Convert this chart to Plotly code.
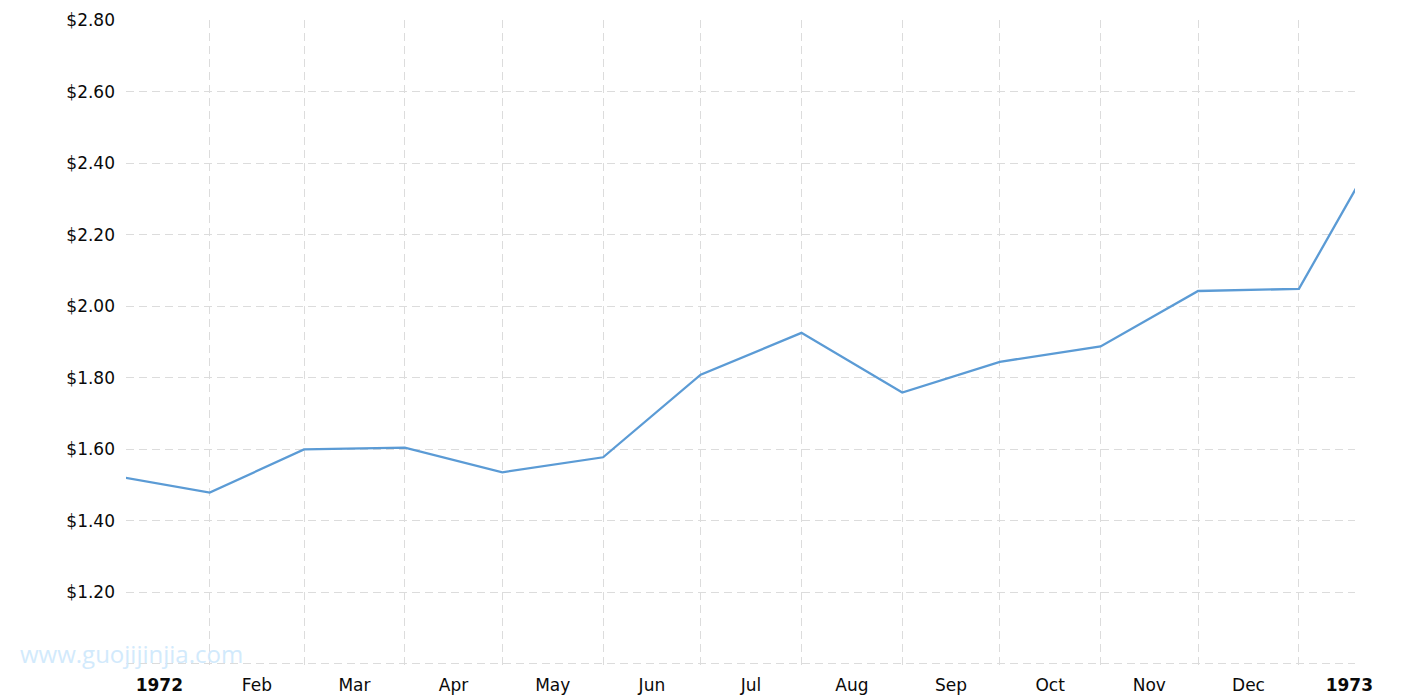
import pandas as pd
import plotly.graph_objects as go

# Monthly prices (first of month)
dates = ["1972-01-01", "1972-02-01", "1972-03-01", "1972-04-01", "1972-05-01",
         "1972-06-01", "1972-07-01", "1972-08-01", "1972-09-01", "1972-10-01",
         "1972-11-01", "1972-12-01", "1973-01-01", "1973-02-01"]
prices = [1.529, 1.479, 1.600, 1.605, 1.536, 1.578, 1.809, 1.926, 1.759,
          1.845, 1.888, 2.043, 2.049, 2.545]

# X tick labels (one per month, centred in the month)
month_starts = ["1972-01-01", "1972-02-01", "1972-03-01", "1972-04-01", "1972-05-01",
                "1972-06-01", "1972-07-01", "1972-08-01", "1972-09-01", "1972-10-01",
                "1972-11-01", "1972-12-01", "1973-01-01"]
month_labels = ["<b>1972</b>", "Feb", "Mar", "Apr", "May", "Jun", "Jul", "Aug",
                "Sep", "Oct", "Nov", "Dec", "<b>1973</b>"]

# Y ticks
y_ticks = [1.0, 1.2, 1.4, 1.6, 1.8, 2.0, 2.2, 2.4, 2.6, 2.8]
y_labels = ["", "$1.20", "$1.40", "$1.60", "$1.80", "$2.00", "$2.20", "$2.40", "$2.60", "$2.80"]

x_range = ["1972-01-06 06:00", "1973-01-18 06:00"]

starts = pd.to_datetime(month_starts)
mids = [s + (s + pd.offsets.MonthBegin(1) - s) / 2 for s in starts]

GRID = "#dcdcdc"
DASH = "8px,5px"

fig = go.Figure()
fig.add_trace(go.Scatter(
    x=pd.to_datetime(dates), y=prices, mode="lines",
    line=dict(color="#5b9bd5", width=2.3),
    hoverinfo="x+y", showlegend=False, cliponaxis=True,
))

fig.update_layout(
    width=1415, height=700,
    margin=dict(l=118, r=68, t=12, b=43),
    paper_bgcolor="white", plot_bgcolor="white",
    font=dict(family="DejaVu Sans, Verdana, sans-serif", size=17, color="#0a0a0a"),
    xaxis=dict(
        type="date", range=x_range, automargin=False,
        tickmode="array", tickvals=mids, ticktext=month_labels,
        showgrid=False, zeroline=False, showline=False, ticks="",
        ticklabelstandoff=8,
        minor=dict(showgrid=True, griddash=DASH, gridcolor=GRID, gridwidth=1,
                   tickmode="array", tickvals=starts[1:], ticks=""),
    ),
    yaxis=dict(
        range=[y_ticks[0] - 0.003, y_ticks[-1] + 0.001], automargin=False,
        tickmode="array", tickvals=y_ticks, ticktext=y_labels,
        showgrid=True, griddash=DASH, gridcolor=GRID, gridwidth=1,
        zeroline=False, showline=False, ticks="",
        ticklabelstandoff=10,
    ),
    annotations=[dict(
        text="www.guojijinjia.com", xref="paper", yref="paper",
        x=-0.0879, y=0.0186, xanchor="left", yanchor="middle", showarrow=False,
        font=dict(family="Open Sans, sans-serif", size=24, color="#d2eafc"),
    )],
)

fig.write_html("out.html")
